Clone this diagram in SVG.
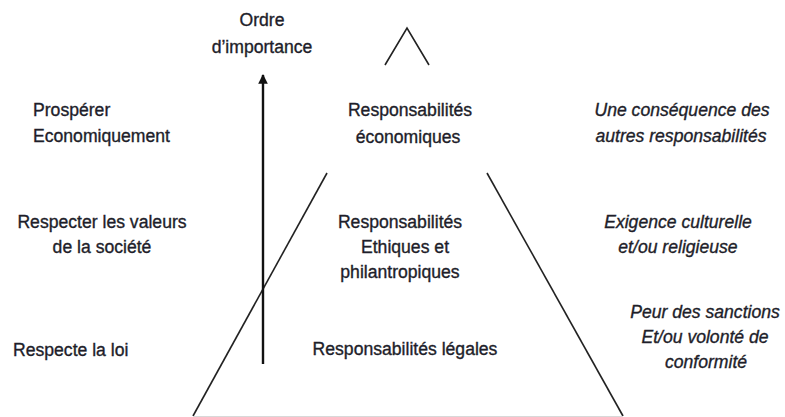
<svg xmlns="http://www.w3.org/2000/svg" width="785" height="417" viewBox="0 0 785 417">
<style>
.t{font-family:"Liberation Sans",Arial,sans-serif;font-size:17.6px;fill:#1e1e2a;stroke:#1e1e2a;stroke-width:0.35}
.i{font-style:italic}
.m{text-anchor:middle}
.p{fill:none;stroke:#222;stroke-width:1.6}
</style>
<defs>
<marker id="ah" viewBox="0 0 10 10" refX="9" refY="5" markerWidth="4" markerHeight="4" orient="auto">
<path d="M0,0 L10,5 L0,10 z" fill="#111"/>
</marker>
</defs>
<rect width="785" height="417" fill="#fff"/>
<g id="pyramid">
<polyline class="p" points="385,65 407,28 429,65"/>
<line class="p" x1="327" y1="173" x2="193" y2="416"/>
<line class="p" x1="487" y1="173" x2="623" y2="416"/>
<line x1="193" y1="416.5" x2="623" y2="416.5" stroke="#d8d8d8" stroke-width="1"/>
</g>
<g id="connectors">
<line x1="263" y1="364" x2="263" y2="75" stroke="#111" stroke-width="2.4" marker-end="url(#ah)"/>
</g>
<g id="axis-label">
<text class="t m" x="262" y="26">Ordre</text>
<text class="t m" x="262" y="53">d’importance</text>
</g>
<g id="left-eco">
<text class="t" x="33" y="116">Prospérer</text>
<text class="t" x="33" y="142">Economiquement</text>
</g>
<g id="left-eth">
<text class="t m" x="102" y="228">Respecter les valeurs</text>
<text class="t m" x="102" y="253">de la société</text>
</g>
<g id="left-leg">
<text class="t" x="13" y="356">Respecte la loi</text>
</g>
<g id="center-eco">
<text class="t m" x="410" y="116">Responsabilités</text>
<text class="t m" x="408" y="143">économiques</text>
</g>
<g id="center-eth">
<text class="t m" x="400" y="228">Responsabilités</text>
<text class="t m" x="405" y="253">Ethiques et</text>
<text class="t m" x="400" y="278">philantropiques</text>
</g>
<g id="center-leg">
<text class="t m" x="405" y="355">Responsabilités légales</text>
</g>
<g id="right-eco">
<text class="t i m" x="682" y="116">Une conséquence des</text>
<text class="t i m" x="681" y="142">autres responsabilités</text>
</g>
<g id="right-eth">
<text class="t i m" x="678" y="228">Exigence culturelle</text>
<text class="t i m" x="678" y="253">et/ou religieuse</text>
</g>
<g id="right-leg">
<text class="t i m" x="705" y="318">Peur des sanctions</text>
<text class="t i m" x="705" y="343">Et/ou volonté de</text>
<text class="t i m" x="706" y="368">conformité</text>
</g>
</svg>
